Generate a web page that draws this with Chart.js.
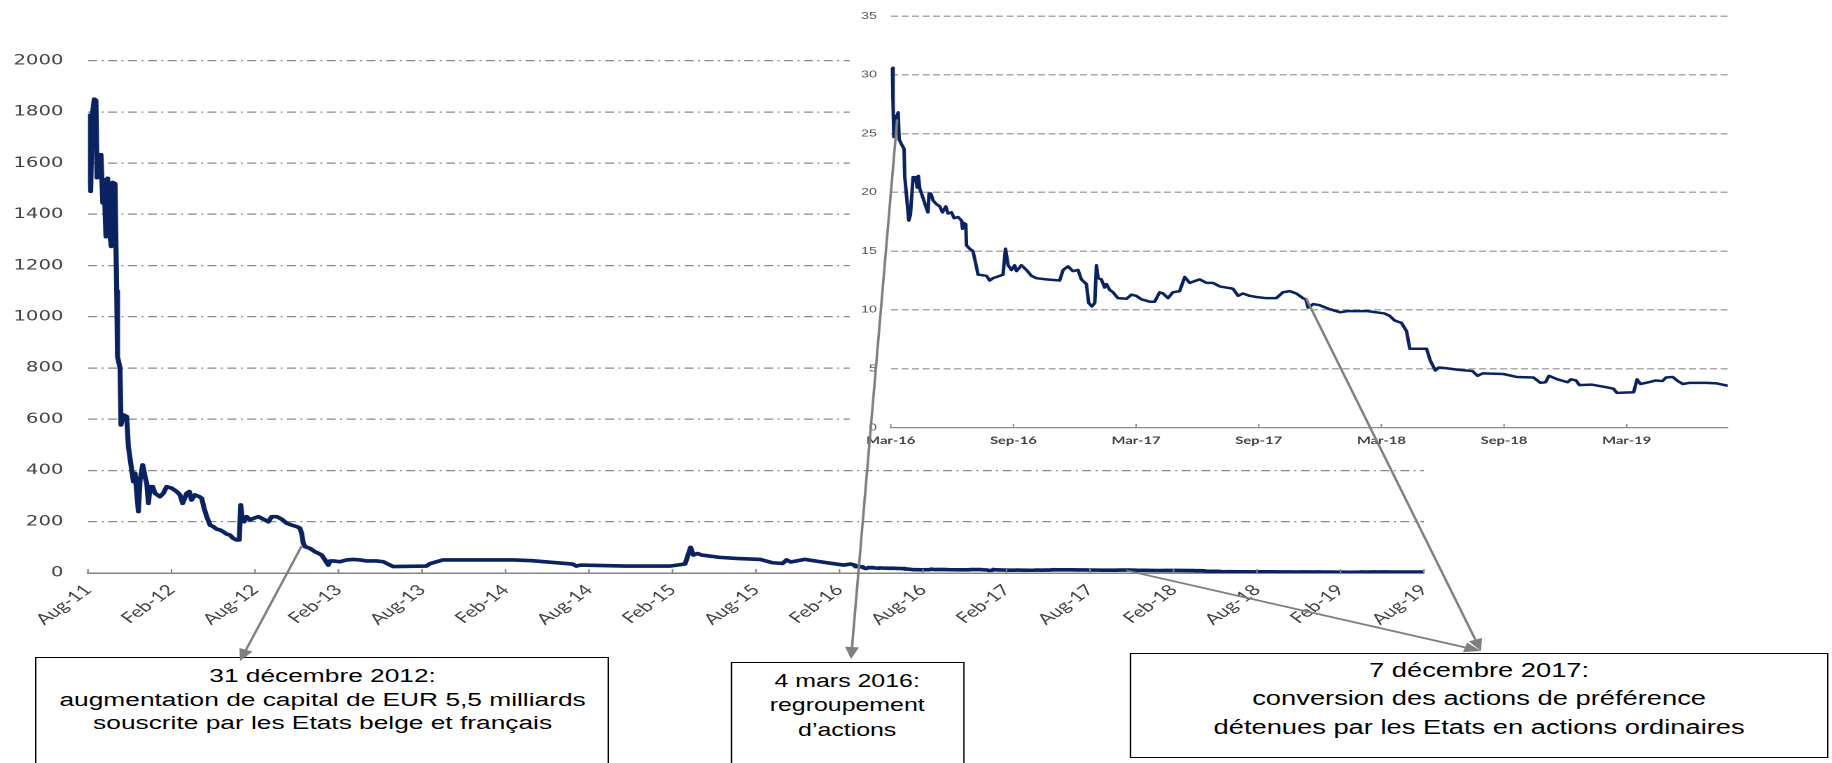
<!DOCTYPE html>
<html>
<head>
<meta charset="utf-8">
<script src="https://cdn.jsdelivr.net/npm/chart.js@4.4.1/dist/chart.umd.min.js"></script>
<style>
html,body{margin:0;padding:0;background:#fff;overflow:hidden;width:1832px;height:763px;}
#stage{position:absolute;left:0;top:0;width:1308.57px;height:763px;transform:scaleX(1.4);transform-origin:0 0;}
canvas{position:absolute;}
#mainC{left:0;top:0;}
#insetC{left:607.14px;top:0;background:#fff;}
#arrows{left:0;top:0;pointer-events:none;}
.box{position:absolute;border:1.5px solid #000;background:#fff;box-sizing:border-box;font-family:"Liberation Sans",Arial,sans-serif;color:#000;text-align:center;white-space:nowrap;}
#b1{left:25.43px;top:657.3px;width:410px;height:112px;padding-top:6px;font-size:18.8px;line-height:23.5px;}
#b2{left:521.64px;top:661.7px;width:167px;height:112px;padding-top:6px;font-size:17.8px;line-height:24.5px;}
#b3{left:807px;top:652.7px;width:499px;height:105.6px;padding-top:2px;font-size:19.5px;line-height:28.5px;}
</style>
</head>
<body>
<div id="stage">
  <canvas id="mainC" width="1030" height="640"></canvas>
  <canvas id="insetC" width="701.4" height="456"></canvas>
  <div class="box" id="b1"><div>31 décembre 2012:</div><div>augmentation de capital de EUR 5,5 milliards</div><div>souscrite par les Etats belge et français</div></div>
  <div class="box" id="b2"><div>4 mars 2016:</div><div>regroupement</div><div>d’actions</div></div>
  <div class="box" id="b3"><div>7 décembre 2017:</div><div>conversion des actions de préférence</div><div>détenues par les Etats en actions ordinaires</div></div>
  <canvas id="arrows" width="2618" height="1526" style="width:1309px;height:763px;"></canvas>
</div>
<script>
const S = 1.4; // horizontal stretch of the whole picture

// ---------- main chart (months since 1 Aug 2011) ----------
const mainTickMonths = [0,6,12,18,24,30,36,42,48,54,60,66,72,78,84,90,96];
const mainTickLabels = ['Aug-11','Feb-12','Aug-12','Feb-13','Aug-13','Feb-14','Aug-14','Feb-15','Aug-15','Feb-16','Aug-16','Feb-17','Aug-17','Feb-18','Aug-18','Feb-19','Aug-19'];
const mainYTicks = [0,200,400,600,800,1000,1200,1400,1600,1800,2000];
const mainMonths = [0.00,0.04,0.19,0.31,0.45,0.57,0.65,0.77,0.86,0.93,1.06,1.15,1.29,1.41,1.58,1.67,1.77,1.94,2.06,2.12,
  2.30,2.37,2.54,2.78,2.90,3.14,3.26,3.38,3.62,3.74,3.93,4.10,4.22,4.34,4.46,4.65,4.81,5.17,5.41,5.65,
  6.01,6.37,6.61,6.80,7.09,7.28,7.44,7.68,8.00,8.17,8.34,8.53,8.77,9.00,9.25,9.48,9.72,9.96,10.20,10.44,
  10.68,10.87,10.97,11.09,11.21,11.40,11.64,11.88,12.24,12.60,12.96,13.20,13.56,13.92,14.28,14.64,15.00,15.23,15.35,15.47,
  15.59,15.95,16.31,16.55,16.79,17.03,17.27,17.39,17.63,18.11,18.59,19.06,19.54,20.03,20.74,21.22,21.70,21.94,24.30,24.60,
  25.50,30.60,31.90,34.80,35.10,35.40,38.60,41.80,42.90,43.30,43.50,43.80,44.10,45.40,46.60,48.30,49.20,49.90,50.20,50.50,
  51.50,53.10,54.30,54.80];
const mainPrices = [1793,1613,1490,1790,1850,1845,1543,1600,1550,1633,1445,1535,1313,1541,1320,1275,1525,1520,1100,845,
  800,578,617,611,493,402,357,389,240,363,422,376,350,272,337,337,311,298,311,337,
  331,318,305,272,311,318,285,305,298,292,253,220,187,181,171,168,161,152,148,135,
  129,129,266,207,200,220,207,213,220,210,200,220,220,210,194,187,181,175,155,116,
  103,96,83,77,70,51,31,47,47,44,51,53,51,47,47,44,31,25,27,37,
  51,51,48,35,27,31,27,27,35,100,70,76,70,61,57,53,40,37,51,43,
  53,40,31,35];

// ---------- inset chart (months since 1 Mar 2016) ----------
const insetStartInMain = 55; // Mar-16 is 55 months after Aug-11
const insetTickMonths = [0,6,12,18,24,30,36];
const insetTickLabels = ['Mar-16','Sep-16','Mar-17','Sep-17','Mar-18','Sep-18','Mar-19'];
const insetYTicks = [0,5,10,15,20,25,30,35];
const insetMonths = [0.06,0.11,0.15,0.20,0.28,0.36,0.41,0.52,0.65,0.68,0.77,0.88,0.96,1.09,1.22,1.29,1.35,1.42,1.58,1.75,
  1.82,1.87,1.96,2.07,2.23,2.40,2.53,2.69,2.80,2.97,3.10,3.29,3.46,3.51,3.57,3.67,3.70,3.86,4.02,4.11,
  4.27,4.68,4.84,5.00,5.33,5.49,5.61,5.74,5.90,6.06,6.15,6.39,6.64,6.88,7.12,7.61,8.26,8.43,8.67,8.91,
  9.16,9.32,9.57,9.68,9.84,9.98,10.06,10.14,10.30,10.46,10.55,10.71,10.87,11.11,11.53,11.77,12.01,12.26,12.67,12.91,
  13.15,13.32,13.56,13.80,14.13,14.38,14.62,14.95,15.11,15.44,15.76,16.09,16.42,16.74,16.99,17.23,17.56,17.88,18.37,18.86,
  19.18,19.51,19.84,20.16,20.30,20.42,20.67,20.98,21.49,21.99,22.32,23.32,24.15,24.40,24.65,24.98,25.23,25.39,25.72,26.21,
  26.39,26.64,26.80,27.14,27.80,28.46,28.70,28.95,29.96,30.62,31.44,31.78,32.03,32.20,32.61,33.11,33.28,33.52,33.69,34.27,
  34.93,35.35,35.52,36.34,36.51,36.67,37.09,37.42,37.75,37.92,38.25,38.50,38.75,39.08,39.91,40.41,40.95];
const insetPrices = [30.6,27.6,24.7,26.5,26.3,26.8,24.5,24.1,23.7,21.4,19.7,17.6,18.1,21.3,21.3,20.4,21.4,20.3,19.5,18.6,
  18.3,19.9,19.9,19.3,19.0,18.8,18.3,18.8,18.2,18.3,17.8,17.9,17.6,16.9,17.4,17.3,15.5,15.2,15.0,14.3,
  13.0,12.9,12.5,12.7,12.9,13.0,15.2,13.8,13.4,13.8,13.3,13.8,13.4,12.9,12.7,12.6,12.5,13.4,13.7,13.3,
  13.4,12.6,12.2,10.6,10.3,10.6,13.8,12.7,12.6,11.9,12.2,11.7,11.5,11.0,10.95,11.3,11.2,10.9,10.7,10.7,
  11.5,11.4,11.0,11.5,11.6,12.8,12.3,12.5,12.6,12.3,12.3,12.0,11.9,11.8,11.2,11.4,11.2,11.1,11.0,11.0,
  11.5,11.6,11.4,11.0,10.9,10.2,10.5,10.4,10.05,9.8,9.9,9.9,9.7,9.5,9.1,8.9,8.2,6.7,6.7,6.7,
  5.7,4.85,5.1,5.05,4.9,4.8,4.4,4.6,4.55,4.3,4.25,3.8,3.85,4.4,4.1,3.85,4.1,4.0,3.6,3.65,
  3.45,3.3,2.95,3.0,4.1,3.7,3.85,4.0,3.95,4.25,4.3,3.95,3.7,3.8,3.8,3.75,3.55];

// ---------- annotation anchors (month, value) on each chart ----------
const arrowFrom = [
  {chart:'main',  month:15.35, value:105},
  {chart:'inset', month:0.30,  value:26.2},
  {chart:'main',  month:74.6,  value:10},
  {chart:'inset', month:20.3,  value:11.0}
];

const LINE = '#0a2260';

const mainData = mainMonths.map((m,i)=>({x:m,y:mainPrices[i]}))
  .concat(insetMonths.map((m,i)=>({x:m+insetStartInMain,y:insetPrices[i]})));
const insetData = insetMonths.map((m,i)=>({x:m,y:insetPrices[i]}));

const innerTicks = {
  id:'innerTicks',
  afterDraw(chart, args, opts){
    const s = chart.scales.x, ctx = chart.ctx;
    ctx.save();
    ctx.strokeStyle = opts.color; ctx.lineWidth = opts.width;
    s.ticks.forEach(t=>{
      const px = s.getPixelForValue(t.value);
      ctx.beginPath(); ctx.moveTo(px, s.top); ctx.lineTo(px, s.top - opts.len); ctx.stroke();
    });
    ctx.restore();
  }
};

const mainChart = new Chart(document.getElementById('mainC'), {
  type:'line',
  data:{datasets:[{data:mainData,borderColor:LINE,borderWidth:3.6,pointRadius:0,tension:0,fill:false,borderJoinStyle:'round'}]},
  options:{
    responsive:false, animation:false, devicePixelRatio:2,
    layout:{padding:{top:60.7,right:12.86,left:0,bottom:0}},
    plugins:{legend:{display:false},tooltip:{enabled:false},innerTicks:{color:'#868686',width:1.1,len:4}},
    scales:{
      x:{type:'linear',min:0,max:96,
        afterBuildTicks:s=>{s.ticks=mainTickMonths.map(v=>({value:v}));},
        afterFit:s=>{s.height=67;s.paddingLeft=0;s.paddingRight=0;},
        grid:{drawOnChartArea:false,drawTicks:false},
        border:{display:true,color:'#868686',width:1.5},
        ticks:{autoSkip:false,minRotation:45,maxRotation:45,padding:8,color:'#404040',
          font:{family:'Lato',size:15},callback:(v,i)=>mainTickLabels[i]}},
      y:{type:'linear',min:0,max:2000,
        afterBuildTicks:s=>{s.ticks=mainYTicks.map(v=>({value:v}));},
        afterFit:s=>{s.width=62.86;},
        grid:{drawTicks:false,lineWidth:1.3,color:c=>(c.tick&&c.tick.value===0)?'rgba(0,0,0,0)':'#8a8a8a'},
        border:{display:false,dash:[6.4,3.2,1.4,3.2]},
        ticks:{padding:17.6,color:'#404040',font:{family:'DejaVu Sans',size:14},callback:v=>String(v)}}
    }
  },
  plugins:[innerTicks]
});

const insetChart = new Chart(document.getElementById('insetC'), {
  type:'line',
  data:{datasets:[{data:insetData,borderColor:LINE,borderWidth:2.5,pointRadius:0,tension:0,fill:false,borderJoinStyle:'round'}]},
  options:{
    responsive:false, animation:false, devicePixelRatio:2,
    layout:{padding:{top:12.3,right:73.8,left:0,bottom:0}},
    plugins:{legend:{display:false},tooltip:{enabled:false},innerTicks:{color:'#8c8c8c',width:1,len:3.5}},
    scales:{
      x:{type:'linear',min:0,max:40.95,
        afterBuildTicks:s=>{s.ticks=insetTickMonths.map(v=>({value:v}));},
        afterFit:s=>{s.height=28.5;s.paddingLeft=0;s.paddingRight=0;},
        grid:{drawOnChartArea:false,drawTicks:false},
        border:{display:true,color:'#8c8c8c',width:1.2},
        ticks:{autoSkip:false,maxRotation:0,minRotation:0,padding:7,color:'#404040',
          font:{family:'Lato',size:10.5,weight:'bold'},callback:(v,i)=>insetTickLabels[i]}},
      y:{type:'linear',min:0,max:35,
        afterBuildTicks:s=>{s.ticks=insetYTicks.map(v=>({value:v}));},
        afterFit:s=>{s.width=29.29;},
        grid:{drawTicks:false,lineWidth:1.5,color:c=>(c.tick&&c.tick.value===0)?'rgba(0,0,0,0)':'#ababab'},
        border:{display:false,dash:[5,2.5]},
        ticks:{padding:10,color:'#595959',font:{family:'Liberation Sans',size:10},callback:v=>String(v)}}
    }
  },
  plugins:[innerTicks]
});

// ---------- arrows ----------
const arrowTo = [[240/S,661],[851/S,659],[1481/S,651],[1481/S,651]];
const insetLeft = 607.14;
const actx = document.getElementById('arrows').getContext('2d');
actx.scale(2,2);
actx.strokeStyle = '#7f7f7f'; actx.fillStyle = '#7f7f7f'; actx.lineWidth = 1.8;
arrowFrom.forEach((a,i)=>{
  const ch = a.chart==='main' ? mainChart : insetChart;
  const ox = a.chart==='main' ? 0 : insetLeft;
  const x0 = ox + ch.scales.x.getPixelForValue(a.month);
  const y0 = ch.scales.y.getPixelForValue(a.value);
  const [x1,y1] = arrowTo[i];
  const dx = x1-x0, dy = y1-y0, L = Math.hypot(dx,dy), ux = dx/L, uy = dy/L;
  const head = 12, hw = 5;
  const bx = x1-ux*head, by = y1-uy*head;
  actx.beginPath(); actx.moveTo(x0,y0); actx.lineTo(bx,by); actx.stroke();
  actx.beginPath(); actx.moveTo(x1,y1);
  actx.lineTo(bx - uy*hw, by + ux*hw); actx.lineTo(bx + uy*hw, by - ux*hw); actx.closePath(); actx.fill();
});
</script>
</body>
</html>
